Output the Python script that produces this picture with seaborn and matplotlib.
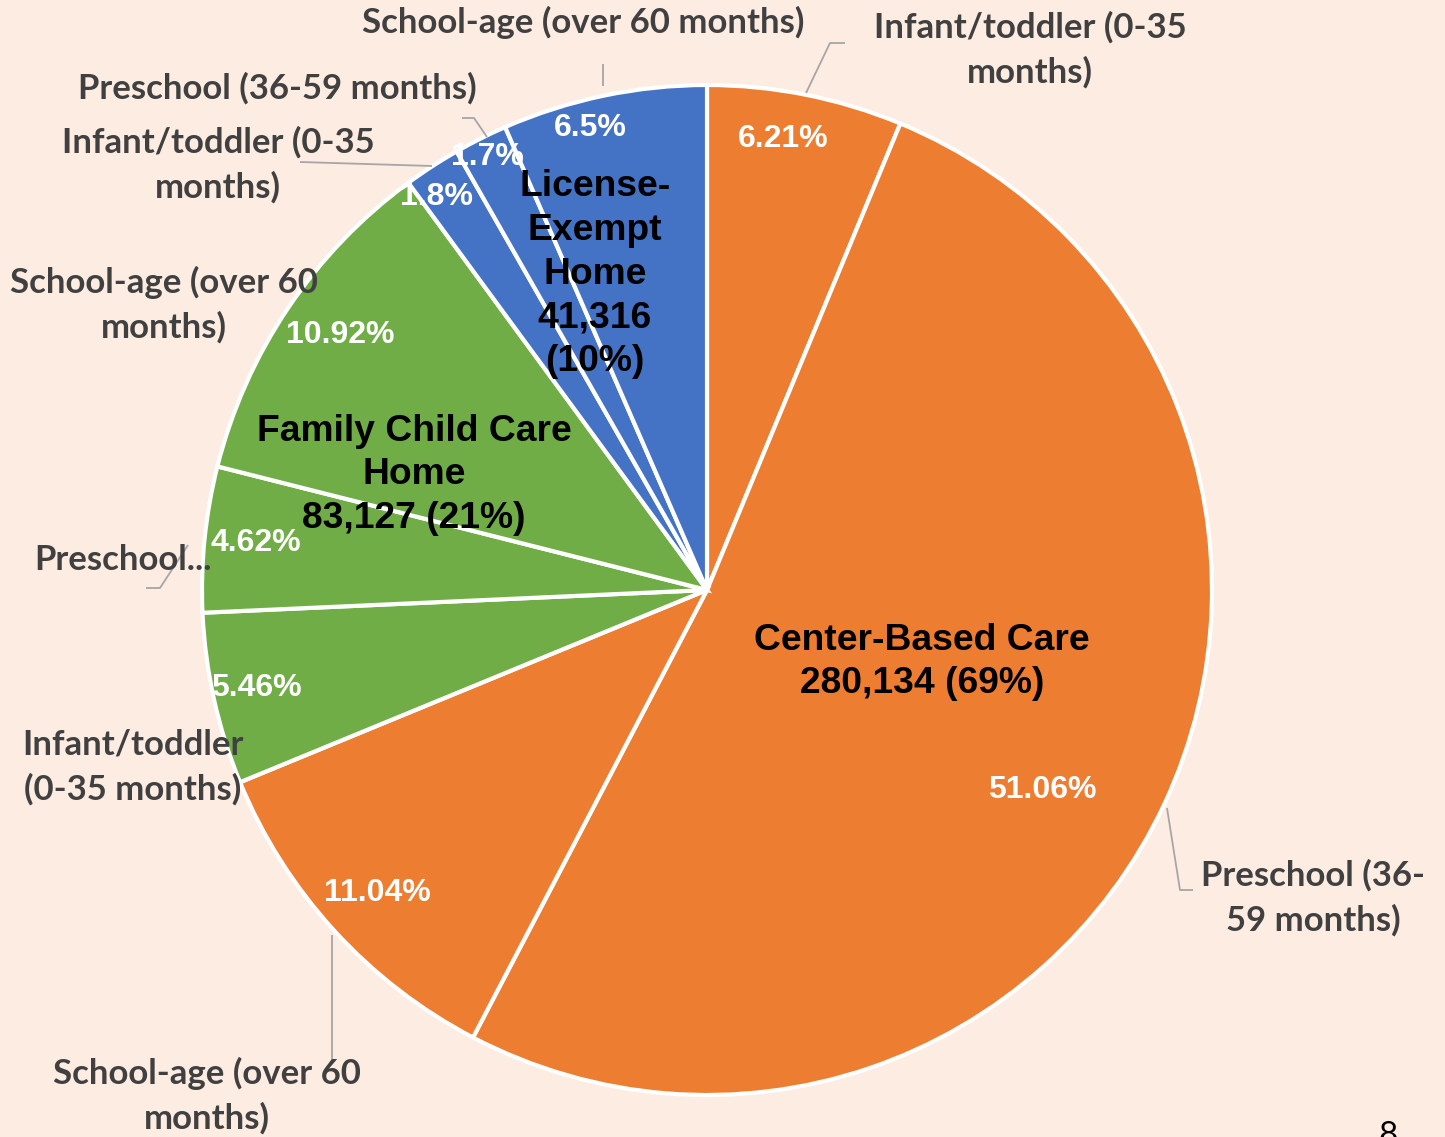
import matplotlib
matplotlib.use("Agg")
import matplotlib.pyplot as plt
import seaborn as sns

# ---- data ----
groups = ["Center-Based Care", "Family Child Care Home", "License-Exempt Home"]
group_counts = ["280,134", "83,127", "41,316"]
group_pcts = [69, 21, 10]
age_cats = ["Infant/toddler (0-35 months)", "Preschool (36-59 months)", "School-age (over 60 months)"]
# clockwise from 12 o'clock
center_vals = [6.21, 51.06, 11.04]
family_vals = [5.46, 4.62, 10.92]
exempt_vals = [1.8, 1.7, 6.5]
group_colors = ["#ED7D31", "#70AD47", "#4472C4"]

values = center_vals + family_vals + exempt_vals
colors = [group_colors[0]] * 3 + [group_colors[1]] * 3 + [group_colors[2]] * 3

# category label texts as they appear (wrapped)
cat_texts = [
    "Infant/toddler (0-35\nmonths)",
    "Preschool (36-\n59 months)",
    "School-age (over 60\nmonths)",
    "Infant/toddler\n(0-35 months)",
    "Preschool...",
    "School-age (over 60\nmonths)",
    "Infant/toddler (0-35\nmonths)",
    "Preschool (36-59 months)",
    "School-age (over 60 months)",
]

# ---- style ----
BG = "#FDECE2"
sns.set_theme(style="white", rc={"figure.facecolor": BG, "axes.facecolor": BG})
plt.rcParams["font.family"] = ["Liberation Sans", "DejaVu Sans"]

W, H = 1445, 1137
fig = plt.figure(figsize=(W / 100, H / 100), dpi=100)
ax = fig.add_axes([0, 0, 1, 1])
ax.set_facecolor(BG)


def Y(py):
    return H - py


CX, CY, R = 707, 590, 505
ax.pie(values, colors=colors, startangle=90, counterclock=False,
       center=(CX, Y(CY)), radius=R,
       wedgeprops=dict(edgecolor="white", linewidth=3))
ax.set_xlim(0, W)
ax.set_ylim(0, H)
ax.set_aspect("equal")
ax.axis("off")

# percentage labels (pixel positions)
pct_pos = [(783, 139), (1042, 790), (377, 893),
           (256, 688), (256, 543), (340, 335),
           (436, 197), (487, 157), (590, 128)]
for v, (px, py) in zip(values, pct_pos):
    ax.text(px, Y(py), f"{v}%", color="white", fontsize=23, fontweight="bold",
            ha="center", va="center")

# group labels
grp_text = [
    f"Center-Based Care\n{group_counts[0]} ({group_pcts[0]}%)",
    f"Family Child Care\nHome\n{group_counts[1]} ({group_pcts[1]}%)",
    f"License-\nExempt\nHome\n{group_counts[2]}\n({group_pcts[2]}%)",
]
grp_pos = [(922, 662), (414, 475), (595, 274)]
for t, (px, py) in zip(grp_text, grp_pos):
    ax.text(px, Y(py), t, color="black", fontsize=26.8, fontweight="bold",
            ha="center", va="center", linespacing=1.33)

# category labels
cat_pos = [(1030, 50), (1313, 898), (207, 1096),
           (133, 767), (123, 560), (164, 305),
           (218, 165), (277, 88), (583, 22)]
for t, (px, py) in zip(cat_texts, cat_pos):
    ax.text(px, Y(py), t, color="#404040", fontsize=25, fontweight="bold",
            family=["Lato", "DejaVu Sans"], ha="center", va="center",
            linespacing=1.45)

# leader lines
leaders = [
    [(806, 93), (830, 43), (845, 43)],
    [(1167, 808), (1180, 890), (1193, 890)],
    [(332, 935), (332, 1060)],
    [(188, 545), (160, 588), (146, 588)],
    [(432, 166), (300, 162)],
    [(487, 137), (474, 118), (462, 118)],
    [(603, 86), (603, 64)],
]
for pts in leaders:
    xs = [p[0] for p in pts]
    ys = [Y(p[1]) for p in pts]
    ax.plot(xs, ys, color="#A6A6A6", lw=1.3, solid_capstyle="butt")

# page number (partially cut at the bottom edge, as in the original slide)
ax.text(1388, Y(1121), "8", color="black", fontsize=24, ha="center", va="top",
        family=["Lato", "DejaVu Sans"])

fig.savefig("out.png", dpi=100, facecolor=BG)
